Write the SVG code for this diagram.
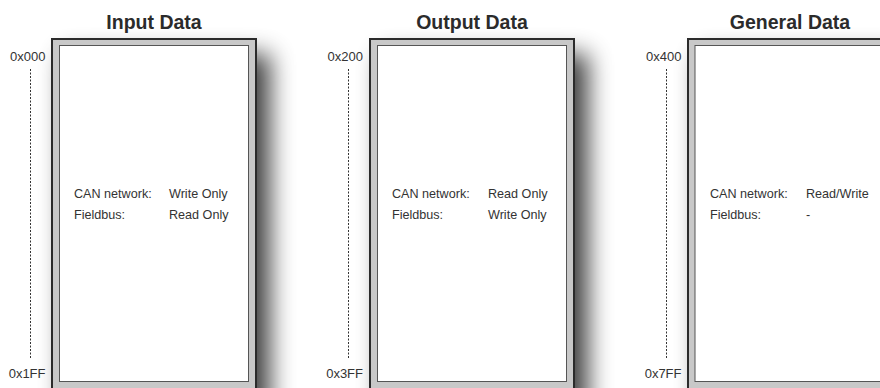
<svg xmlns="http://www.w3.org/2000/svg" width="880" height="388" viewBox="0 0 880 388">
  <style>
    .title { font-family: "Liberation Sans", Arial, sans-serif; font-weight: bold; font-size: 19.5px; fill: #2b2b2b; text-anchor: middle; }
    .addr { font-family: "Liberation Sans", Arial, sans-serif; font-size: 13px; fill: #333; text-anchor: end; }
    .lbl { font-family: "Liberation Sans", Arial, sans-serif; font-size: 12.6px; fill: #333; }
    .frame { fill: #c8c8c8; stroke: #2b2b2b; stroke-width: 2; }
    .inner { fill: #ffffff; stroke: #555; stroke-width: 1; }
    .shadow { fill: #000; opacity: 0.75; }
    .range { stroke: #333; stroke-width: 1; stroke-dasharray: 2 1.5; fill: none; }
  </style>
  <defs>
    <filter id="blur" x="-30%" y="-30%" width="160%" height="160%">
      <feGaussianBlur stdDeviation="12"/>
    </filter>
  </defs>
  <rect width="880" height="388" fill="#ffffff"/>

  <g id="input-data">
    <rect class="shadow" x="64" y="54" width="206" height="360" filter="url(#blur)"/>
    <rect class="frame" x="52" y="39" width="204" height="352"/>
    <rect class="inner" x="59.5" y="45.5" width="189" height="336"/>
    <text class="title" x="154" y="29">Input Data</text>
    <text class="lbl" x="74" y="198">CAN network:</text>
    <text class="lbl" x="169" y="198">Write Only</text>
    <text class="lbl" x="74" y="219">Fieldbus:</text>
    <text class="lbl" x="169" y="219">Read Only</text>
  </g>

  <g id="output-data">
    <rect class="shadow" x="382" y="54" width="206" height="360" filter="url(#blur)"/>
    <rect class="frame" x="370" y="39" width="204" height="352"/>
    <rect class="inner" x="377.5" y="45.5" width="189" height="336"/>
    <text class="title" x="472" y="29">Output Data</text>
    <text class="lbl" x="392" y="198">CAN network:</text>
    <text class="lbl" x="488" y="198">Read Only</text>
    <text class="lbl" x="392" y="219">Fieldbus:</text>
    <text class="lbl" x="488" y="219">Write Only</text>
  </g>

  <g id="general-data">
    <rect class="shadow" x="700" y="54" width="206" height="360" filter="url(#blur)"/>
    <rect class="frame" x="688" y="39" width="204" height="352"/>
    <rect class="inner" x="695" y="45.5" width="189" height="336"/>
    <text class="title" x="790" y="29">General Data</text>
    <text class="lbl" x="710" y="198">CAN network:</text>
    <text class="lbl" x="806" y="198">Read/Write</text>
    <text class="lbl" x="710" y="219">Fieldbus:</text>
    <text class="lbl" x="806" y="219">-</text>
  </g>

  <g id="address-ranges">
    <text class="addr" x="45.5" y="61">0x000</text>
    <line class="range" x1="30.5" y1="69" x2="30.5" y2="358"/>
    <text class="addr" x="45.5" y="378">0x1FF</text>

    <text class="addr" x="363" y="61">0x200</text>
    <line class="range" x1="348.5" y1="69" x2="348.5" y2="358"/>
    <text class="addr" x="363" y="378">0x3FF</text>

    <text class="addr" x="681.5" y="61">0x400</text>
    <line class="range" x1="666.5" y1="69" x2="666.5" y2="358"/>
    <text class="addr" x="681.5" y="378">0x7FF</text>
  </g>
</svg>
